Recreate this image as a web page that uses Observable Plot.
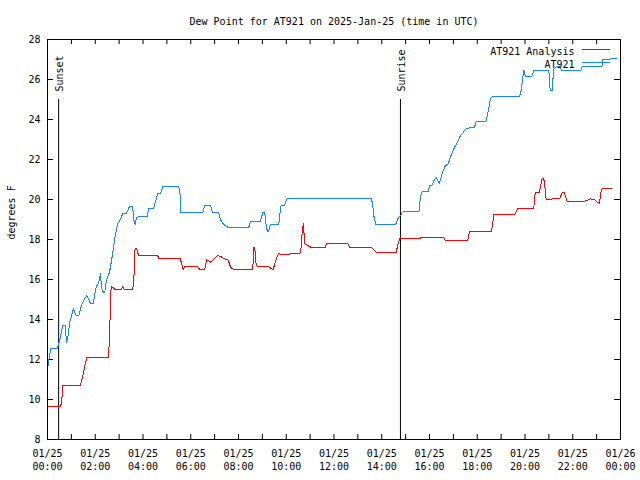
<!DOCTYPE html>
<html><head><meta charset="utf-8">
<script src="https://cdn.jsdelivr.net/npm/d3@7"></script>
<script src="https://cdn.jsdelivr.net/npm/@observablehq/plot@0.6"></script>
<style>body{margin:0;background:#fff}</style>
</head><body><div id="chart"></div>
<script>
const title = "Dew Point for AT921 on 2025-Jan-25 (time in UTC)";
const yLabel = "degrees F";
const seriesNames = ["AT921 Analysis", "AT921"];
const seriesColors = ["#ff0000", "#1188ff"];

const analysisTimes = ["00:00","00:33","00:36","00:38","01:23","01:29","01:35","01:39","02:33","02:36","02:38","02:40","02:45","02:51","03:05","03:09","03:14","03:34","03:37","03:40","03:44","03:49","04:37","04:40","05:34","05:37","05:41","05:45","06:16","06:24","06:35","06:40","06:44","06:50","06:58","07:06","07:15","07:22","07:34","07:40","07:47","08:36","08:38","08:41","08:43","08:47","09:14","09:20","09:27","09:31","09:37","09:41","09:46","10:07","10:11","10:34","10:38","10:40","10:43","10:44","10:47","10:51","11:05","11:37","11:41","12:35","12:40","13:36","13:43","13:49","14:36","14:40","14:45","15:36","15:37","16:36","16:40","17:36","17:41","18:36","18:42","19:34","19:42","20:22","20:26","20:36","20:43","20:47","20:50","20:53","21:27","21:34","21:38","21:46","22:28","22:35","22:45","22:55","23:01","23:07","23:12","23:14","23:39"];
const analysisDew = [9.65,9.65,9.95,10.7,10.7,11.2,11.78,12.12,12.12,13.03,14.78,15.65,15.6,15.48,15.48,15.65,15.48,15.48,16.03,17.53,17.53,17.2,17.18,17.03,17.03,16.78,16.48,16.67,16.67,16.48,16.48,16.98,16.95,16.87,17.03,17.18,17.17,17.05,16.98,16.62,16.5,16.48,17.62,17.62,16.9,16.65,16.65,16.58,16.48,16.78,17.12,17.32,17.25,17.25,17.28,17.28,17.65,18.37,18.82,18.45,17.78,17.73,17.58,17.58,17.78,17.78,17.58,17.58,17.42,17.33,17.33,17.7,18.03,18.03,18.08,18.08,17.95,17.95,18.42,18.42,19.25,19.25,19.57,19.57,20.37,20.37,21.07,21.07,20.62,20.02,20.03,20.37,20.37,19.9,19.9,19.95,20.03,19.98,19.88,19.82,20.48,20.53,20.53];

const stationTimes = ["00:00","00:08","00:24","00:28","00:33","00:38","00:44","00:48","00:51","00:56","01:05","01:12","01:19","01:25","01:33","01:39","01:48","01:55","02:02","02:09","02:13","02:16","02:20","02:24","02:28","02:36","02:43","02:51","02:57","03:02","03:09","03:18","03:26","03:34","03:37","03:40","03:44","04:04","04:11","04:14","04:26","04:31","04:37","04:44","04:50","05:30","05:33","05:35","06:30","06:35","06:50","06:55","07:10","07:15","07:23","07:33","08:26","08:30","08:55","09:01","09:06","09:10","09:13","09:16","09:20","09:41","09:45","09:47","09:56","10:00","10:03","13:34","13:37","13:40","13:45","14:35","14:40","14:47","14:55","15:34","15:37","15:42","15:57","16:00","16:07","16:11","16:17","16:25","16:33","16:40","16:47","16:53","17:01","17:10","17:18","17:22","17:30","17:36","17:53","17:57","18:22","18:28","18:33","18:38","19:46","19:49","19:53","19:57","20:01","20:18","20:22","21:00","21:02","21:04","21:08","21:11","21:13","21:21","21:27","21:32","22:20","22:24","23:14","23:16","23:50"];
const stationDew = [11.54,12.53,12.55,12.78,13.15,13.7,13.7,12.87,13.1,13.87,14.53,14.2,14.2,14.7,15.03,15.2,14.8,14.8,15.6,15.87,16.28,15.6,15.37,15.37,15.95,16.37,17.2,18.28,18.82,18.95,19.28,19.28,19.65,19.65,18.95,18.75,19.12,19.15,19.15,19.53,19.53,19.87,20.28,20.3,20.65,20.65,20.28,19.33,19.33,19.7,19.7,19.33,19.33,18.98,18.75,18.62,18.62,18.92,18.92,19.33,19.33,18.62,18.4,18.4,18.75,18.75,19.45,19.7,19.7,19.98,20.03,20.03,19.78,19.2,18.75,18.75,19.03,19.2,19.42,19.42,20.12,20.4,20.4,20.7,20.73,20.95,21.08,20.82,21.37,21.7,21.77,22.15,22.53,22.87,23.2,23.28,23.5,23.57,23.6,23.9,23.9,24.45,25.03,25.15,25.15,25.28,25.87,26.45,26.17,26.17,26.45,26.45,25.7,25.45,25.45,26.2,26.53,26.67,26.67,26.45,26.45,26.67,26.67,27.0,27.05];

const eventTimes = ["00:28","14:47"];
const eventLabels = ["Sunset","Sunrise"];
const eventTop = 25;

const xLabelHours = [0,2,4,6,8,10,12,14,16,18,20,22,24];
const xMinorHours = d3.range(0, 25);
const yTicks = [8,10,12,14,16,18,20,22,24,26,28];
const yDomain = [8, 28];

const day = Date.UTC(2025, 0, 25);
const toDate = s => { const [h, m] = s.split(":").map(Number); return new Date(day + (h * 60 + m) * 60000); };
const hourDate = h => new Date(day + h * 3600000);

const analysis = analysisTimes.map((t, i) => ({time: toDate(t), dew: analysisDew[i]}));
const station = stationTimes.map((t, i) => ({time: toDate(t), dew: stationDew[i]}));
const events = eventTimes.map((t, i) => ({time: toDate(t), label: eventLabels[i]}));
const labelTicks = xLabelHours.map(hourDate);
const minorTicks = xMinorHours.map(hourDate);
const fmt = d3.utcFormat("%m/%d\n%H:%M");

const chart = Plot.plot({
  width: 640, height: 480,
  marginLeft: 47, marginRight: 20, marginTop: 39, marginBottom: 41,
  style: {fontFamily: "'DejaVu Sans Mono', monospace", fontSize: "10px", background: "#fff"},
  x: {type: "utc", domain: [hourDate(0), hourDate(24)], axis: null},
  y: {domain: yDomain, axis: null},
  marks: [
    Plot.axisX(labelTicks, {tickSize: 0, tickPadding: 8, tickFormat: fmt, fontSize: 10, lineHeight: 1.3, label: null}),
    Plot.axisY(yTicks, {tickSize: 0, tickPadding: 7, fontSize: 10, label: null}),
    Plot.tickX(minorTicks, {x: d => d, insetTop: 395, stroke: "black"}),
    Plot.tickX(minorTicks, {x: d => d, insetBottom: 395, stroke: "black"}),
    Plot.tickY(yTicks, {y: d => d, insetRight: 567, stroke: "black"}),
    Plot.tickY(yTicks, {y: d => d, insetLeft: 567, stroke: "black"}),
    Plot.ruleX(events, {x: "time", y1: eventTop, y2: yDomain[0], stroke: "black", strokeWidth: 1}),
    Plot.text(events, {x: "time", y: eventTop, text: "label", rotate: -90, textAnchor: "start", dy: -8, dx: 1, fontSize: 10}),
    Plot.line(analysis, {x: "time", y: "dew", stroke: seriesColors[0], strokeWidth: 1, shapeRendering: "crispEdges"}),
    Plot.line(station, {x: "time", y: "dew", stroke: seriesColors[1], strokeWidth: 1, shapeRendering: "crispEdges"}),
    Plot.frame({stroke: "black"}),
    Plot.text([title], {frameAnchor: "top", dy: -22, fontSize: 10}),
    Plot.text([yLabel], {frameAnchor: "left", dx: -36, rotate: -90, fontSize: 10}),
    Plot.text([seriesNames[0]], {frameAnchor: "top-right", dx: -46, dy: 8, textAnchor: "end", fontSize: 10}),
    Plot.text([seriesNames[1]], {frameAnchor: "top-right", dx: -46, dy: 21, textAnchor: "end", fontSize: 10})
  ]
});
const svg = d3.select(chart);
[49.5, 62.5].forEach((y, i) => {
  svg.append("line").attr("x1", 582).attr("x2", 610).attr("y1", y).attr("y2", y)
    .attr("stroke", seriesColors[i]).attr("stroke-width", 1);
});
document.getElementById("chart").appendChild(chart);
</script>
</body></html>
